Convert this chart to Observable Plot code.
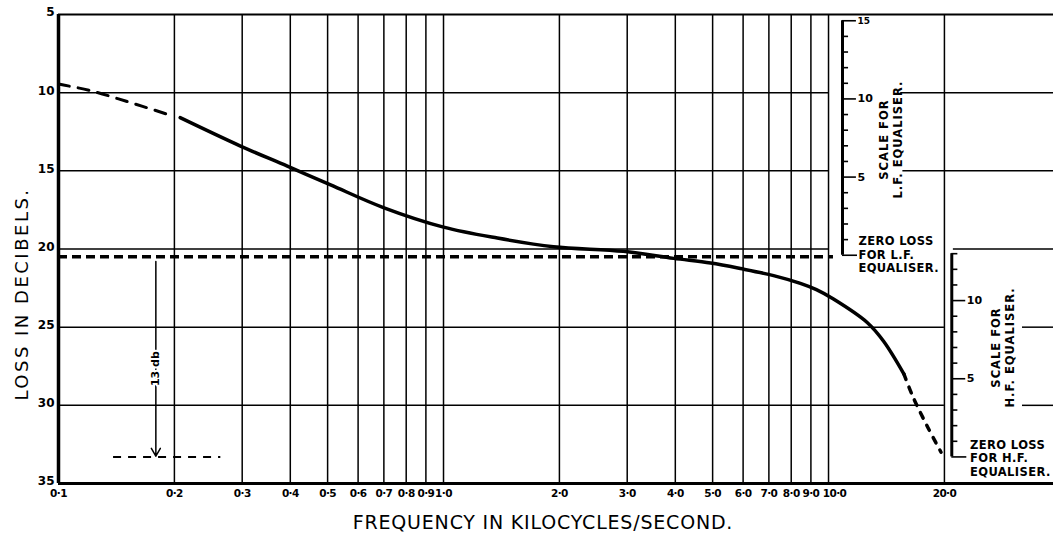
<!DOCTYPE html>
<html><head><meta charset="utf-8">
<script src="https://cdn.jsdelivr.net/npm/d3@7"></script>
<script src="https://cdn.jsdelivr.net/npm/@observablehq/plot@0.6"></script>
<style>
html,body{margin:0;padding:0;background:#fff;}
#chart svg{display:block;}
</style></head><body><div id="chart"></div>
<script>
// ---- data ----
const xTicks = [0.1,0.2,0.3,0.4,0.5,0.6,0.7,0.8,0.9,1,2,3,4,5,6,7,8,9,10,20];
const xTickLabels = ["0·1","0·2","0·3","0·4","0·5","0·6","0·7","0·8","0·9","1·0","2·0","3·0","4·0","5·0","6·0","7·0","8·0","9·0","10·0","20·0"];
const yTicks = [5,10,15,20,25,30,35];

// loss curve (kc/s, dB)
const lowDashFreq = [0.1, 0.12, 0.15, 0.19];
const lowDashLoss = [9.45, 9.85, 10.55, 11.35];
const solidFreq = [0.207, 0.296, 0.393, 0.509, 0.698, 1.0, 1.38, 1.93, 2.93, 3.96, 4.94, 5.9, 7.2, 8.45, 9.3, 10.3, 12.6, 13.9, 15.7];
const solidLoss = [11.6, 13.4, 14.7, 15.9, 17.35, 18.6, 19.3, 19.85, 20.15, 20.6, 20.9, 21.25, 21.7, 22.2, 22.6, 23.2, 24.7, 25.9, 28.0];
const highDashFreq = [15.7, 16.6, 18.1, 19.6];
const highDashLoss = [28.0, 29.5, 31.4, 33.0];

// reference levels
const lfZeroLoss = 20.4;   // zero loss for L.F. equaliser
const hfZeroLoss = 33.3;   // zero loss for H.F. equaliser
const refDashLoss = 20.5;
const lfScaleTicks = [0,1,2,3,4,5,6,7,8,9,10,11,12,13,14,15];
const lfScaleLabels = [5,10,15];
const hfScaleTicks = [0,1,2,3,4,5,6,7,8,9,10,11,12,13];
const hfScaleLabels = [5,10];
const dbLabel = "13 db";
const xTitle = "FREQUENCY IN KILOCYCLES/SECOND.";
const yTitle = "LOSS IN DECIBELS.";

// ---- layout (data-space anchors) ----
const xMax = 38.4;
const fLF = 10.87, fHF = 20.9, fArrow = 0.179;
const hGrid = [
  {y:10, x1:0.1, x2:10}, {y:10, x1:15.4, x2:xMax},
  {y:15, x1:0.1, x2:10}, {y:15, x1:15.6, x2:xMax},
  {y:20, x1:0.1, x2:10}, {y:20, x1:21.1, x2:xMax},
  {y:25, x1:0.1, x2:20}, {y:25, x1:31.9, x2:xMax},
  {y:30, x1:0.1, x2:20}, {y:30, x1:31.9, x2:xMax}
];

const pts = (f, l) => f.map((x, i) => ({x, y: l[i]}));
const tickLen = v => v === 0 ? 1.094 : (v % 5 === 0 ? 1.087 : 1.037);
const xLabelData = xTicks.map((x, i) => ({x, label: xTickLabels[i]}));
const shiftedLabel = d => d.x === 10;

const chart = Plot.plot({
  width: 1053, height: 534,
  marginLeft: 58, marginRight: 0, marginTop: 14, marginBottom: 51,
  style: {fontFamily: "DejaVu Sans", background: "white", color: "black"},
  x: {type: "log", domain: [0.1, xMax], axis: null},
  y: {domain: [5, 35], reverse: true, axis: null},
  marks: [
    // grid
    Plot.ruleX(xTicks.slice(1), {y1: 5, y2: 35, stroke: "black", strokeWidth: 1.5}),
    Plot.ruleY(hGrid, {y: "y", x1: "x1", x2: "x2", stroke: "black", strokeWidth: 1.5}),
    Plot.ruleY([5], {stroke: "black", strokeWidth: 2}),
    Plot.ruleY([35], {stroke: "black", strokeWidth: 3}),
    Plot.ruleX([0.1], {y1: 5, y2: 35, stroke: "black", strokeWidth: 3.5}),
    // tick labels
    Plot.text(xLabelData.filter(d => !shiftedLabel(d)), {x: "x", frameAnchor: "bottom", dy: 13, text: "label", fontSize: 10.5, fontWeight: "bold"}),
    Plot.text(xLabelData.filter(shiftedLabel), {x: "x", frameAnchor: "bottom", dx: 6, dy: 13, text: "label", fontSize: 10.5, fontWeight: "bold"}),
    Plot.text(yTicks, {y: d => d, frameAnchor: "left", dx: -4, dy: -2, textAnchor: "end", text: String, fontSize: 12, fontWeight: "bold"}),
    // reference dashed levels
    Plot.ruleY([refDashLoss], {x1: 0.1, x2: 10.3, stroke: "black", strokeWidth: 3.5, strokeDasharray: "9,5"}),
    Plot.ruleY([hfZeroLoss], {x1: 0.139, x2: 0.264, stroke: "black", strokeWidth: 2, strokeDasharray: "8,7"}),
    // 13 db arrow
    Plot.arrow([0], {x1: fArrow, x2: fArrow, y1: refDashLoss + 0.3, y2: hfZeroLoss - 0.05, stroke: "black", strokeWidth: 1.5, headLength: 9}),
    Plot.text([dbLabel], {x: fArrow, y: 27.65, rotate: -90, fontSize: 11, fontWeight: "bold", stroke: "white", strokeWidth: 4, fill: "black"}),
    // loss curve
    Plot.line(pts(lowDashFreq, lowDashLoss), {x: "x", y: "y", curve: "catmull-rom", stroke: "black", strokeWidth: 3, strokeDasharray: "11,9"}),
    Plot.line(pts(solidFreq, solidLoss), {x: "x", y: "y", curve: "catmull-rom", stroke: "black", strokeWidth: 3.5}),
    Plot.line(pts(highDashFreq, highDashLoss), {x: "x", y: "y", curve: "catmull-rom", stroke: "black", strokeWidth: 3.5, strokeDasharray: "6,8"}),
    // L.F. equaliser scale
    Plot.ruleX([fLF], {y1: lfZeroLoss, y2: lfZeroLoss - 15, stroke: "black", strokeWidth: 3}),
    Plot.ruleY(lfScaleTicks, {y: v => lfZeroLoss - v, x1: fLF, x2: v => fLF * tickLen(v), stroke: "black", strokeWidth: 1.6}),
    Plot.text(lfScaleLabels, {x: fLF * 1.094, y: v => lfZeroLoss - v, text: String, textAnchor: "start", fontSize: v => v === 15 ? 9 : 11, fontWeight: "bold"}),
    Plot.text(["ZERO LOSS\nFOR L.F.\nEQUALISER."], {x: fLF * 1.1, y: lfZeroLoss, dy: -1, textAnchor: "start", lineAnchor: "middle", lineHeight: 1.2, fontSize: 11.5, fontWeight: "bold"}),
    Plot.text(["SCALE FOR\nL.F. EQUALISER."], {x: 14.5, y: 13.0, rotate: -90, lineHeight: 1.2, fontSize: 11.5, fontWeight: "bold"}),
    // H.F. equaliser scale
    Plot.ruleX([fHF], {y1: hfZeroLoss, y2: hfZeroLoss - 13, stroke: "black", strokeWidth: 3}),
    Plot.ruleY(hfScaleTicks, {y: v => hfZeroLoss - v, x1: fHF, x2: v => fHF * tickLen(v), stroke: "black", strokeWidth: 1.6}),
    Plot.text(hfScaleLabels, {x: fHF * 1.094, y: v => hfZeroLoss - v, text: String, textAnchor: "start", fontSize: 11, fontWeight: "bold"}),
    Plot.text(["ZERO LOSS\nFOR H.F.\nEQUALISER."], {x: fHF * 1.115, y: hfZeroLoss, dy: 1, textAnchor: "start", lineAnchor: "middle", lineHeight: 1.2, fontSize: 11.5, fontWeight: "bold"}),
    Plot.text(["SCALE FOR\nH.F. EQUALISER."], {x: 28.3, y: 26.3, rotate: -90, lineHeight: 1.2, fontSize: 11.5, fontWeight: "bold"}),
    // axis titles
    Plot.text([xTitle], {frameAnchor: "bottom", dx: -13, dy: 39, textAnchor: "middle", lineAnchor: "middle", fontSize: 19}),
    Plot.text([yTitle], {frameAnchor: "left", dx: -36, dy: 45, textAnchor: "middle", rotate: -90, lineAnchor: "middle", fontSize: 18})
  ]
});
const texts = d3.select(chart).selectAll("text");
texts.filter(function() { return this.textContent === xTitle; }).style("letter-spacing", "0.8px");
texts.filter(function() { return this.textContent === yTitle; }).style("letter-spacing", "2.5px");
texts.filter(function() { return /SCALE FOR/.test(this.textContent); }).style("letter-spacing", "1px");
texts.filter(function() { return /ZERO LOSS/.test(this.textContent); }).style("letter-spacing", "0.4px");
texts.filter(function() { return xTickLabels.includes(this.textContent); }).style("letter-spacing", "-0.6px");
document.getElementById("chart").append(chart);
</script></body></html>
